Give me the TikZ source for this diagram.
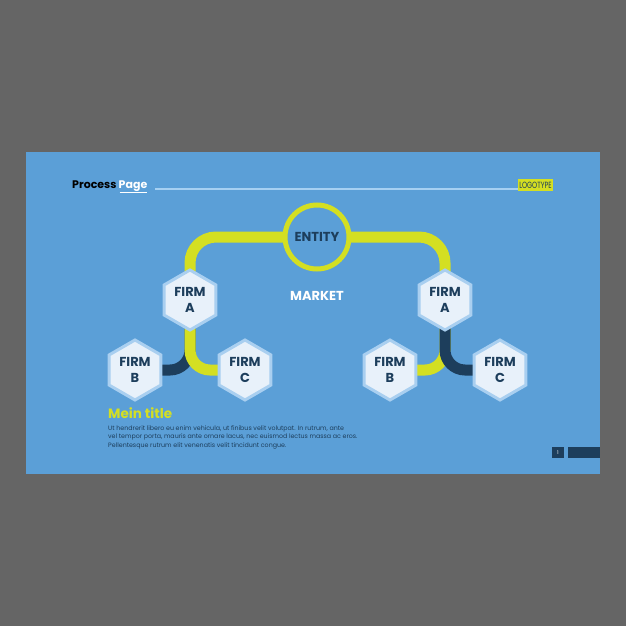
\documentclass[tikz,border=0pt]{standalone}
\usepackage{fontspec}
\setmainfont{Poppins}
\usetikzlibrary{shapes.geometric}

\definecolor{pagegray}{HTML}{656565}
\definecolor{slideblue}{HTML}{5B9FD7}
\definecolor{lime}{HTML}{D4DF22}
\definecolor{navy}{HTML}{1D3E5C}
\definecolor{hexfill}{HTML}{E8F1FA}
\definecolor{hexline}{HTML}{A9CFF0}
\definecolor{rule}{HTML}{A6D0F2}

\pgfdeclarelayer{bg}
\pgfdeclarelayer{links}
\pgfsetlayers{bg,links,main}

\tikzset{
	firm/.style={regular polygon, regular polygon sides=6, shape border rotate=30,
		minimum size=60, inner sep=0pt, fill=hexfill, draw=hexline, line width=3pt,
		text=navy, align=center, font=\bfseries\fontsize{13}{16}\selectfont},
	entity/.style={circle, minimum size=64, inner sep=0pt, fill=slideblue,
		draw=lime, line width=5pt, text=navy, font=\bfseries\fontsize{13}{15}\selectfont},
	limelink/.style={draw=lime, line width=11pt},
	navylink/.style={draw=navy, line width=11pt}
}

\begin{document}
\begin{tikzpicture}[x=1pt,y=-1pt]
	\useasboundingbox (0,0) rectangle (626,626);
	
	\begin{pgfonlayer}{bg}
	\fill[pagegray] (0,0) rectangle (626,626);
	\fill[slideblue] (26,152) rectangle (600,474);
	\end{pgfonlayer}
	
	% header
	\node[anchor=base west, inner sep=0pt, font=\bfseries\fontsize{11}{13}\selectfont] (process) at (72,188) {Process};
	\node[anchor=base west, inner sep=0pt, text=white, font=\bfseries\fontsize{11}{13}\selectfont] (page) at (process.base east) {\,Page};
	\draw[white, line width=1.2pt] (page.south west) ++(3,1) -- ([yshift=-1]page.south east);
	\node[fill=lime, text=navy, inner sep=1.5pt, minimum height=12] (logo) at (535.5,185)
		{\scalebox{0.72}[1]{\fontsize{9}{9}\selectfont LOGOTYPE}};
	\draw[rule, line width=1.2pt] (155,189) -- (logo.west |- 0,189);
	
	% diagram
	\node[entity] (entity) at (317,237) {ENTITY};
	\node[text=white, font=\bfseries\fontsize{13}{15}\selectfont] (market) at (317,296) {MARKET};
	
	\node[firm] (firmAL) at (190,300) {FIRM\\A};
	\node[firm] (firmBL) at (135,370) {FIRM\\B};
	\node[firm] (firmCL) at (245,370) {FIRM\\C};
	
	\node[firm] (firmAR) at (445,300) {FIRM\\A};
	\node[firm] (firmBR) at (390,370) {FIRM\\B};
	\node[firm] (firmCR) at (500,370) {FIRM\\C};
	
	\begin{pgfonlayer}{links}
	\draw[limelink, rounded corners=26] (entity.center) -| (firmAL.center);
	\draw[limelink, rounded corners=26] (entity.center) -| (firmAR.center);
	
	\draw[navylink, rounded corners=20] (firmBL.center) -| (firmAL.center);
	\draw[limelink, rounded corners=20] (firmAL.center) |- (firmCL.center);
	
	\draw[limelink, rounded corners=20] (firmBR.center) -| (firmAR.center);
	\draw[navylink, rounded corners=20] (firmAR.center) |- (firmCR.center);
	\end{pgfonlayer}
	
	% text block
	\node[anchor=base west, inner sep=0pt, text=lime, font=\bfseries\fontsize{13.5}{15}\selectfont] (title) at (108,418) {Mein title};
	\node[anchor=north west, inner sep=0pt, text=navy, align=left, font=\fontsize{6.3}{8.5}\selectfont] (body) at (108,425)
		{Ut hendrerit libero eu enim vehicula, ut finibus velit volutpat. In rutrum, ante\\
		vel tempor porta, mauris ante ornare lacus, nec euismod lectus massa ac eros.\\
		Pellentesque rutrum elit venenatis velit tincidunt congue.};
	
	% page number
	\node[fill=navy, text=white, minimum width=12, minimum height=11, inner sep=0pt, font=\fontsize{5}{6}\selectfont] (pagenum) at (558,452.5) {1};
	\fill[navy] (568,447) rectangle (600,458);
	
\end{tikzpicture}
\end{document}
